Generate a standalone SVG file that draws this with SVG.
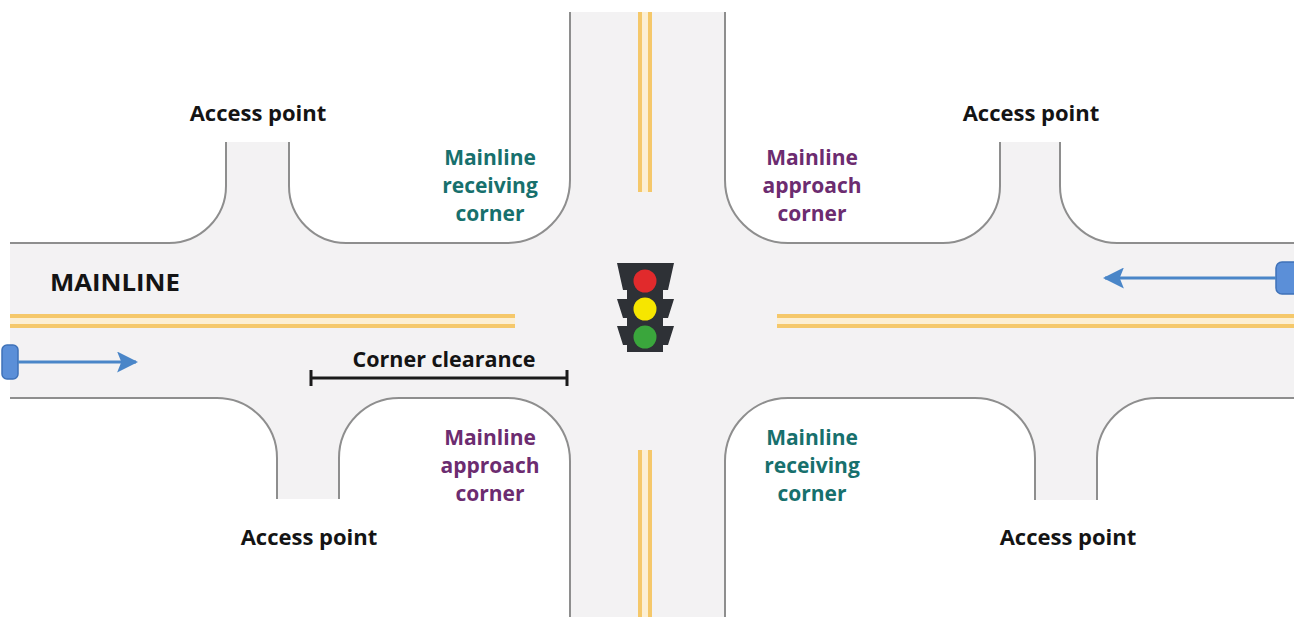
<svg xmlns="http://www.w3.org/2000/svg" width="1294" height="617" viewBox="0 0 1294 617">
  <style>
    .curb { fill: none; stroke: #8e8e8e; stroke-width: 2; }
    .road { fill: #f3f2f3; }
    .lane { stroke: #f5c86a; stroke-width: 4; }
    .lane-mid { stroke: #fcefd3; stroke-width: 6; }
    .lbl { font-family: "Open Sans", "Liberation Sans", sans-serif; font-weight: 700; text-anchor: middle; }
    .black { fill: #141414; font-size: 22px; }
    .teal { fill: #17706d; font-size: 21px; }
    .purple { fill: #6c2c70; font-size: 21px; }
    .flow { stroke: #4a86c8; stroke-width: 3; }
    .car { fill: #5b8fd8; stroke: #3f72b8; stroke-width: 1.5; }
  </style>
  <defs>
    <marker id="head" viewBox="0 0 10 10" refX="9" refY="5" markerWidth="7" markerHeight="7" orient="auto" markerUnits="strokeWidth">
      <path d="M0 0 L10 5 L0 10 L2 5 Z" fill="#4a86c8"/>
    </marker>
  </defs>

  <rect width="1294" height="617" fill="#ffffff"/>

  <!-- road surface -->
  <g id="roads">
    <path class="road" d="M10 243 H169 A57 57 0 0 0 226 186 V142 H289 V186 A57 57 0 0 0 346 243 H507 A63 63 0 0 0 570 180 V12 H725 V180 A63 63 0 0 0 788 243 H943 A57 57 0 0 0 1000 186 V142 H1060 V186 A57 57 0 0 0 1117 243 H1294 V398 H1157 A60 60 0 0 0 1097 458 V500 H1035 V458 A60 60 0 0 0 975 398 H788 A63 63 0 0 0 725 461 V617 H570 V461 A63 63 0 0 0 507 398 H399 A60 60 0 0 0 339 458 V499 H277 V458 A60 60 0 0 0 217 398 H10 Z"/>
    <!-- curbs -->
    <path class="curb" d="M10 243 H169 A57 57 0 0 0 226 186 V142"/>
    <path class="curb" d="M289 142 V186 A57 57 0 0 0 346 243 H507 A63 63 0 0 0 570 180 V12"/>
    <path class="curb" d="M725 12 V180 A63 63 0 0 0 788 243 H943 A57 57 0 0 0 1000 186 V142"/>
    <path class="curb" d="M1060 142 V186 A57 57 0 0 0 1117 243 H1294"/>
    <path class="curb" d="M10 398 H217 A60 60 0 0 1 277 458 V499"/>
    <path class="curb" d="M339 499 V458 A60 60 0 0 1 399 398 H507 A63 63 0 0 1 570 461 V617"/>
    <path class="curb" d="M725 617 V461 A63 63 0 0 1 788 398 H975 A60 60 0 0 1 1035 458 V500"/>
    <path class="curb" d="M1097 500 V458 A60 60 0 0 1 1157 398 H1294"/>
  </g>

  <!-- centre lines -->
  <g id="centre-lines">
    <line class="lane-mid" x1="10" y1="321" x2="515" y2="321"/>
    <line class="lane" x1="10" y1="316" x2="515" y2="316"/>
    <line class="lane" x1="10" y1="326" x2="515" y2="326"/>
    <line class="lane-mid" x1="777" y1="321" x2="1294" y2="321"/>
    <line class="lane" x1="777" y1="316" x2="1294" y2="316"/>
    <line class="lane" x1="777" y1="326" x2="1294" y2="326"/>
    <line class="lane-mid" x1="645" y1="12" x2="645" y2="192"/>
    <line class="lane" x1="640" y1="12" x2="640" y2="192"/>
    <line class="lane" x1="650" y1="12" x2="650" y2="192"/>
    <line class="lane-mid" x1="645" y1="450" x2="645" y2="617"/>
    <line class="lane" x1="640" y1="450" x2="640" y2="617"/>
    <line class="lane" x1="650" y1="450" x2="650" y2="617"/>
  </g>

  <!-- traffic signal -->
  <g id="signal">
    <path fill="#2e3136" d="M617 263 H674 L668 290 H663 V299 H674 L668 318 H663 V326 H674 L668 345 H663 V352 H627 V345 H623 L617 326 H627 V318 H623 L617 299 H627 V290 H623 Z"/>
    <circle cx="645" cy="281" r="11.5" fill="#e12a2c"/>
    <circle cx="645" cy="309" r="11.5" fill="#f6e600"/>
    <circle cx="645" cy="337" r="11.5" fill="#3aa63c"/>
  </g>

  <!-- vehicles and travel direction -->
  <g id="vehicle-east">
    <rect class="car" x="2" y="345" width="16" height="34" rx="5"/>
    <line class="flow" x1="18" y1="362" x2="136" y2="362" marker-end="url(#head)"/>
  </g>
  <g id="vehicle-west">
    <rect class="car" x="1276" y="262" width="24" height="32" rx="6"/>
    <line class="flow" x1="1276" y1="278" x2="1105" y2="278" marker-end="url(#head)"/>
  </g>

  <!-- corner clearance dimension -->
  <g id="corner-clearance">
    <line x1="311" y1="378" x2="567" y2="378" stroke="#1a1a1a" stroke-width="3"/>
    <line x1="311" y1="370" x2="311" y2="386" stroke="#1a1a1a" stroke-width="3"/>
    <line x1="567" y1="370" x2="567" y2="386" stroke="#1a1a1a" stroke-width="3"/>
    <text class="lbl black" x="444" y="367" style="font-size:21.5px">Corner clearance</text>
  </g>

  <!-- labels -->
  <g id="label-mainline">
    <text class="lbl black" x="50" y="291" style="text-anchor:start;font-size:23px" textLength="130" lengthAdjust="spacingAndGlyphs">MAINLINE</text>
  </g>
  <g id="access-nw"><text class="lbl black" x="258" y="121">Access point</text></g>
  <g id="access-ne"><text class="lbl black" x="1031" y="121">Access point</text></g>
  <g id="access-sw"><text class="lbl black" x="309" y="545">Access point</text></g>
  <g id="access-se"><text class="lbl black" x="1068" y="545">Access point</text></g>

  <g id="corner-nw">
    <text class="lbl teal" x="490" y="165">Mainline</text>
    <text class="lbl teal" x="490" y="193">receiving</text>
    <text class="lbl teal" x="490" y="221">corner</text>
  </g>
  <g id="corner-ne">
    <text class="lbl purple" x="812" y="165">Mainline</text>
    <text class="lbl purple" x="812" y="193">approach</text>
    <text class="lbl purple" x="812" y="221">corner</text>
  </g>
  <g id="corner-sw">
    <text class="lbl purple" x="490" y="445">Mainline</text>
    <text class="lbl purple" x="490" y="473">approach</text>
    <text class="lbl purple" x="490" y="501">corner</text>
  </g>
  <g id="corner-se">
    <text class="lbl teal" x="812" y="445">Mainline</text>
    <text class="lbl teal" x="812" y="473">receiving</text>
    <text class="lbl teal" x="812" y="501">corner</text>
  </g>
</svg>
